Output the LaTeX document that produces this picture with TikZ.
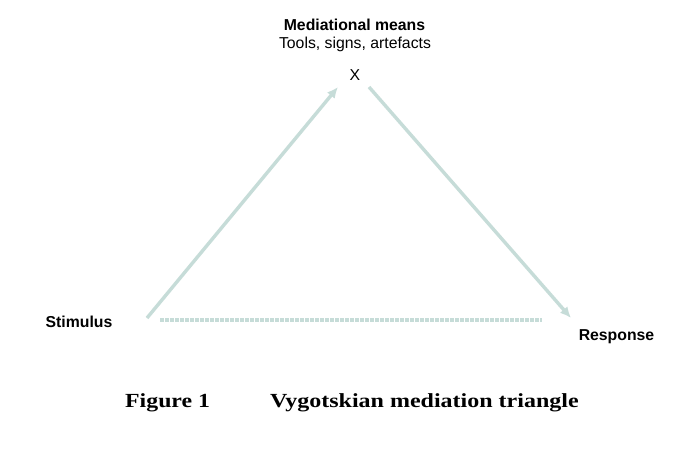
\documentclass[tikz,border=0pt]{standalone}
\usepackage{fontspec}
\setmainfont{Liberation Serif}
\setsansfont{Liberation Sans}
\usetikzlibrary{arrows.meta}
\definecolor{linkcol}{HTML}{C6DCD8}
\begin{document}
\begin{tikzpicture}[x=1pt,y=-1pt,
  lab/.style={font=\sffamily\fontsize{15.8}{18}\selectfont, inner sep=0pt, anchor=base},
  labb/.style={lab, font=\sffamily\bfseries\fontsize{15.8}{18}\selectfont},
  captext/.style={font=\bfseries\fontsize{20}{24}\selectfont, inner sep=0pt, anchor=base west},
  link/.style={draw=linkcol, line width=3.4pt, -{Latex[length=11pt,width=10pt]}},
  dlink/.style={draw=linkcol, line width=3.2pt, dash pattern=on 3.5pt off 1.5pt}]
\useasboundingbox[fill=white] (0,0) rectangle (688,472);

% labels
\node[labb] (mm) at (354.5,30) {Mediational means};
\node[lab] (tools) at (355,48) {Tools, signs, artefacts};
\node[lab] (x) at (355,80) {X};
\node[labb] (stim) at (79,327) {Stimulus};
\node[labb] (resp) at (616.5,340) {Response};

% ends of the triangle sides
\coordinate (s1) at (147,318);
\coordinate (x1) at (338,87);
\coordinate (x2) at (369,87);
\coordinate (r1) at (571,318);
\coordinate (s2) at (160,320);
\coordinate (r2) at (542,320);

\draw[link] (s1) -- (x1);
\draw[link] (x2) -- (r1);
\draw[dlink] (s2) -- (r2);

% caption
\node[captext] (fig) at (125,407) {\scalebox{1.19}[1]{Figure 1}};
\node[captext] (title) at (270,407) {\scalebox{1.2}[1]{Vygotskian mediation triangle}};
\end{tikzpicture}
\end{document}
